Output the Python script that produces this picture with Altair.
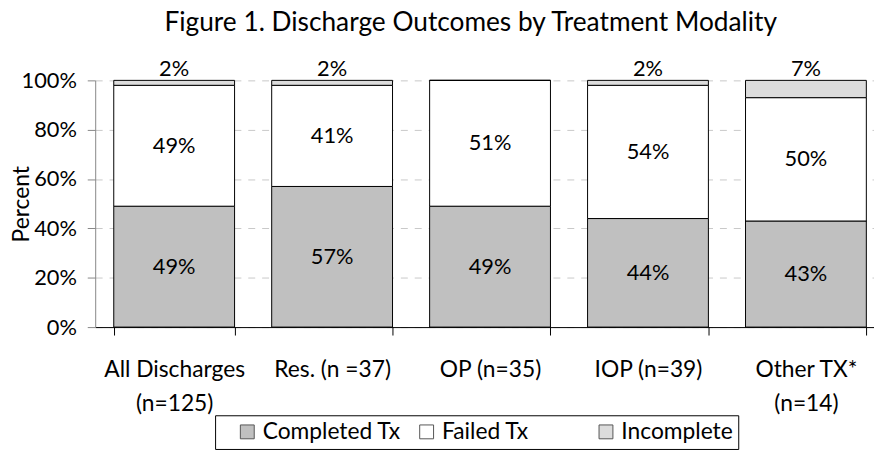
import altair as alt
import pandas as pd

categories = ["All Discharges\n(n=125)", "Res. (n =37)", "OP (n=35)", "IOP (n=39)", "Other TX*\n(n=14)"]
completed = [49, 57, 49, 44, 43]
failed = [49, 41, 51, 54, 50]
incomplete = [2, 2, 0, 2, 7]
outcomes = ["Completed Tx", "Failed Tx", "Incomplete"]
colors = ["#c0c0c0", "#ffffff", "#dcdcdc"]

rows = []
for i, c in enumerate(categories):
    for j, (o, v) in enumerate(zip(outcomes, [completed[i], failed[i], incomplete[i]])):
        rows.append({"group": c, "outcome": o, "value": v, "order": j})
df = pd.DataFrame(rows)

FONT = "Lato"

xscale = alt.Scale(domain=categories, range=[0, 797], paddingInner=0.235, paddingOuter=0.1175)
yscale = alt.Scale(domain=[0, 100])

base = alt.Chart(df).transform_stack(
    stack="value", groupby=["group"], as_=["y0", "y1"], sort=[alt.SortField("order")]
).transform_calculate(mid="(datum.y0 + datum.y1) / 2", lbl="datum.value + '%'")

bars = base.mark_bar(stroke="black", strokeWidth=1).encode(
    x=alt.X("group:N", scale=xscale, sort=categories,
            axis=alt.Axis(title=None, tickBand="extent", labelAngle=0, domainColor="black",
                          tickColor="black", tickSize=8, labelFontSize=23, labelFont=FONT,
                          labelColor="black", labelPadding=24, labelLineHeight=34,
                          labelExpr="split(datum.label, '\\n')", labelLimit=300)),
    y=alt.Y("y0:Q", scale=yscale,
            axis=alt.Axis(title="Percent", values=[0, 20, 40, 60, 80, 100],
                          labelExpr="datum.value + '%'", grid=True, gridDash=[7, 7],
                          gridColor="#c8c8c8", domainColor="#888888", tickColor="#888888",
                          tickSize=8, labelFontSize=22, labelFont=FONT, labelColor="black",
                          labelPadding=11, titleFontSize=23, titleFont=FONT,
                          titleFontWeight="normal", titleColor="black",
                          titleX=-67, titleBaseline="alphabetic")),
    y2="y1:Q",
    fill=alt.Fill("outcome:N", scale=alt.Scale(domain=outcomes, range=colors),
                  legend=alt.Legend(title=" ", titleOrient="left", orient="none",
                                    legendX=121, legendY=338, direction="horizontal",
                                    columns=3, gridAlign="all",
                                    strokeColor="black", fillColor="white", padding=5,
                                    symbolType="square", symbolSize=196,
                                    symbolStrokeColor="#555555", symbolStrokeWidth=1,
                                    labelFontSize=23, labelFont=FONT, labelColor="black",
                                    titleFontSize=10, titlePadding=16,
                                    columnPadding=14, labelOffset=4)),
    order=alt.Order("order:Q"),
)

inner = base.transform_filter("datum.outcome != 'Incomplete'").mark_text(
    fontSize=22, font=FONT, color="black"
).encode(
    x=alt.X("group:N", scale=xscale, sort=categories),
    y=alt.Y("mid:Q", scale=yscale),
    text="lbl:N",
)

top = base.transform_filter("datum.outcome == 'Incomplete' && datum.value > 0").mark_text(
    fontSize=22, font=FONT, color="black", baseline="alphabetic", dy=-4
).encode(
    x=alt.X("group:N", scale=xscale, sort=categories),
    y=alt.Y("y1:Q", scale=yscale),
    text="lbl:N",
)

chart = alt.layer(bars, inner, top).properties(
    width=786, height=249,
    autosize=alt.AutoSizeParams(type="none"),
    padding={"left": 88, "top": 71, "right": 0, "bottom": 122},
    title=alt.TitleParams("Figure 1. Discharge Outcomes by Treatment Modality", font=FONT,
                          fontSize=26.5, fontWeight="normal", color="black", anchor="middle",
                          frame="group", dx=-14, offset=22),
).configure_view(stroke=None)

chart.save("out.html", embed_options={"renderer": "svg", "actions": False})
